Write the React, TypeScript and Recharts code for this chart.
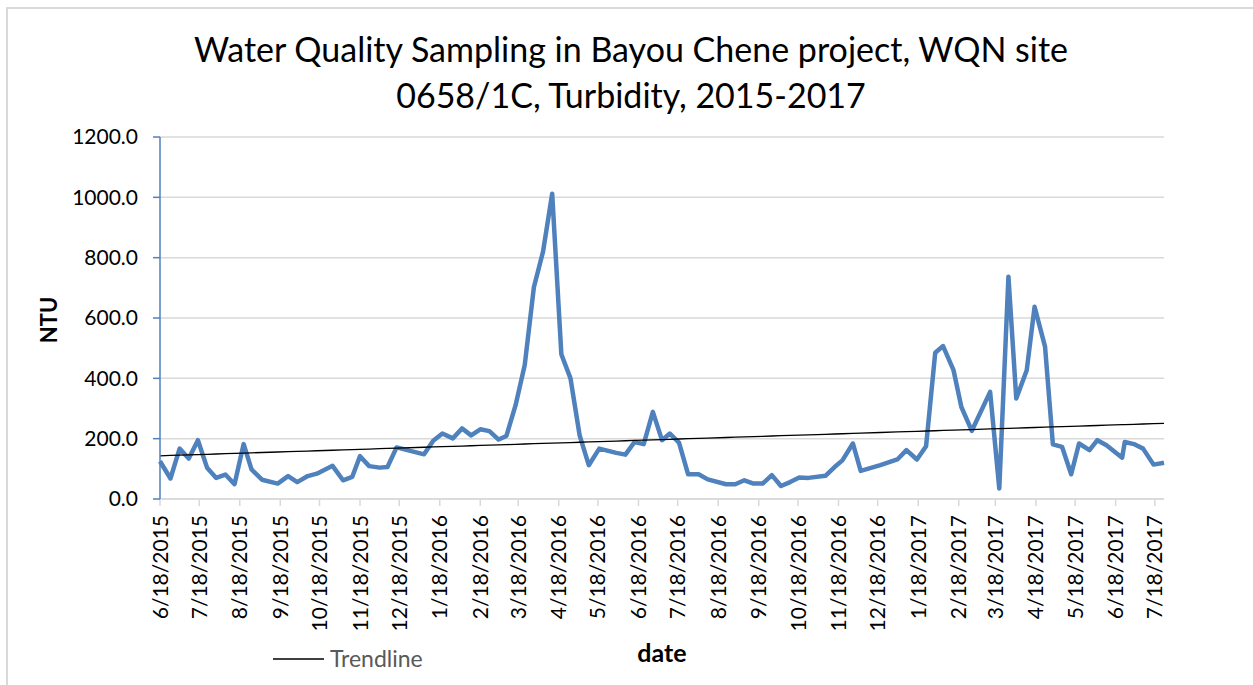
import React from 'react';
import { LineChart, Line, XAxis, YAxis, CartesianGrid } from 'recharts';

const sampleDates = [
  '2015-06-18', '2015-06-26', '2015-07-03', '2015-07-10', '2015-07-17', '2015-07-24', '2015-07-31',
  '2015-08-07', '2015-08-14', '2015-08-21', '2015-08-27', '2015-09-04', '2015-09-16', '2015-09-24',
  '2015-10-01', '2015-10-09', '2015-10-16', '2015-10-22', '2015-10-28', '2015-11-05', '2015-11-12',
  '2015-11-18', '2015-11-25', '2015-12-03', '2015-12-09', '2015-12-16', '2016-01-06', '2016-01-13',
  '2016-01-20', '2016-01-28', '2016-02-04', '2016-02-11', '2016-02-18', '2016-02-25', '2016-03-03',
  '2016-03-09', '2016-03-16', '2016-03-23', '2016-03-30', '2016-04-06', '2016-04-13', '2016-04-20',
  '2016-04-27', '2016-05-04', '2016-05-11', '2016-05-19', '2016-06-01', '2016-06-08', '2016-06-15',
  '2016-06-22', '2016-06-29', '2016-07-06', '2016-07-12', '2016-07-19', '2016-07-26', '2016-08-03',
  '2016-08-10', '2016-08-24', '2016-08-31', '2016-09-07', '2016-09-14', '2016-09-21', '2016-09-28',
  '2016-10-05', '2016-10-12', '2016-10-19', '2016-10-26', '2016-11-08', '2016-11-15', '2016-11-21',
  '2016-11-29', '2016-12-05', '2016-12-20', '2017-01-02', '2017-01-09', '2017-01-17', '2017-01-24',
  '2017-01-31', '2017-02-06', '2017-02-14', '2017-02-20', '2017-02-28', '2017-03-14', '2017-03-21',
  '2017-03-28', '2017-04-03', '2017-04-11', '2017-04-17', '2017-04-25', '2017-05-01', '2017-05-08',
  '2017-05-15', '2017-05-21', '2017-05-29', '2017-06-04', '2017-06-11', '2017-06-23', '2017-06-25',
  '2017-07-02', '2017-07-09', '2017-07-17', '2017-07-25',
];

const turbidity = [
  125, 68, 167, 134, 195, 104, 70, 81, 49, 182,
  98, 64, 51, 76, 56, 76, 84, 97, 110, 62,
  73, 142, 109, 104, 106, 171, 148, 193, 217, 201,
  234, 211, 231, 225, 197, 209, 311, 444, 702, 820,
  1012, 480, 400, 211, 112, 167, 153, 147, 189, 182,
  289, 195, 217, 187, 82, 82, 65, 49, 49, 62,
  51, 51, 79, 43, 56, 71, 70, 77, 106, 128,
  184, 93, 112, 131, 162, 131, 175, 485, 507, 427,
  305, 226, 355, 35, 737, 333, 427, 637, 505, 181,
  173, 82, 184, 162, 195, 178, 137, 189, 182, 167,
  114, 120,
];

const tickLabels = [
  '6/18/2015', '7/18/2015', '8/18/2015', '9/18/2015', '10/18/2015', '11/18/2015', '12/18/2015',
  '1/18/2016', '2/18/2016', '3/18/2016', '4/18/2016', '5/18/2016', '6/18/2016', '7/18/2016',
  '8/18/2016', '9/18/2016', '10/18/2016', '11/18/2016', '12/18/2016', '1/18/2017', '2/18/2017',
  '3/18/2017', '4/18/2017', '5/18/2017', '6/18/2017', '7/18/2017',
];

const yTicks = [0, 200, 400, 600, 800, 1000, 1200];

const FONT = 'Lato, "Open Sans", sans-serif';
const BLUE = '#4F81BD';
const GRID = '#d9d9d9';

const isoDay = (s: string) => {
  const [y, m, d] = s.split('-').map(Number);
  return Date.UTC(y, m - 1, d) / 86400000;
};
const usDay = (s: string) => {
  const [m, d, y] = s.split('/').map(Number);
  return Date.UTC(y, m - 1, d) / 86400000;
};

const days = sampleDates.map(isoDay);
const tickDays = tickLabels.map(usDay);
const labelByDay: Record<number, string> = {};
tickLabels.forEach((l, i) => { labelByDay[tickDays[i]] = l; });

// least squares linear trendline, like Excel's
const n = days.length;
const mx = days.reduce((a, b) => a + b, 0) / n;
const my = turbidity.reduce((a, b) => a + b, 0) / n;
let sxy = 0, sxx = 0;
days.forEach((x, i) => { sxy += (x - mx) * (turbidity[i] - my); sxx += (x - mx) * (x - mx); });
const slope = sxy / sxx;
const intercept = my - slope * mx;

const data = days.map((day, i) => ({ day, ntu: turbidity[i], trend: intercept + slope * day }));

const DateTick = (props: any) => {
  const { x, y, payload } = props;
  return (
    <text
      x={x}
      y={y}
      transform={`rotate(-90, ${x}, ${y})`}
      textAnchor="end"
      dy="0.36em"
      fontSize={21}
      fontFamily={FONT}
      fill="#000"
    >
      {labelByDay[payload.value]}
    </text>
  );
};

export default function App() {
  return (
    <div style={{ position: 'absolute', left: 0, top: 0, width: 1253, height: 685, overflow: 'hidden', background: '#fff' }}>
      <div style={{ position: 'absolute', left: 6, top: 7, width: 1400, height: 800, borderLeft: `2px solid ${GRID}`, borderTop: `2px solid ${GRID}` }} />
      <LineChart
        width={1253}
        height={685}
        data={data}
        margin={{ top: 137, right: 89, bottom: 86, left: 100 }}
        style={{ position: 'absolute', left: 0, top: 0 }}
      >
        <CartesianGrid vertical={false} stroke={GRID} strokeWidth={1.5} />
        <XAxis
          type="number"
          dataKey="day"
          domain={[days[0], days[days.length - 1]]}
          ticks={tickDays}
          interval={0}
          height={100}
          tickSize={7}
          tickMargin={9}
          axisLine={{ stroke: GRID, strokeWidth: 1.5 }}
          tickLine={{ stroke: GRID, strokeWidth: 1.5 }}
          tick={<DateTick />}
        />
        <YAxis
          domain={[0, 1200]}
          ticks={yTicks}
          interval={0}
          width={60}
          tickSize={7}
          tickMargin={15}
          tickFormatter={(v: number) => v.toFixed(1)}
          axisLine={{ stroke: BLUE, strokeWidth: 1.5 }}
          tickLine={{ stroke: BLUE, strokeWidth: 1.5 }}
          tick={{ fontSize: 21, fontFamily: FONT, fill: '#000' }}
        />
        <Line
          type="linear"
          dataKey="ntu"
          stroke={BLUE}
          strokeWidth={4.5}
          strokeLinejoin="round"
          dot={false}
          isAnimationActive={false}
        />
        <Line
          type="linear"
          dataKey="trend"
          stroke="#000"
          strokeWidth={1.3}
          dot={false}
          isAnimationActive={false}
        />
      </LineChart>
      <svg width={1253} height={685} style={{ position: 'absolute', left: 0, top: 0, pointerEvents: 'none' }}>
        <text x={631} y={62} textAnchor="middle" fontSize={34} fontFamily={FONT} fill="#000">
          Water Quality Sampling in Bayou Chene project, WQN site
        </text>
        <text x={631} y={108} textAnchor="middle" fontSize={34} fontFamily={FONT} fill="#000">
          0658/1C, Turbidity, 2015-2017
        </text>
        <text x={49} y={320} transform="rotate(-90, 49, 320)" textAnchor="middle" dy="0.36em" fontSize={22} fontWeight="bold" fontFamily={FONT} fill="#000">
          NTU
        </text>
        <text x={662} y={662} textAnchor="middle" fontSize={25} fontWeight="bold" fontFamily={FONT} fill="#000">
          date
        </text>
        <line x1={273} y1={659} x2={324} y2={659} stroke="#000" strokeWidth={1.3} />
        <text x={330} y={667} fontSize={23} fontFamily={FONT} fill="#595959">
          Trendline
        </text>
      </svg>
    </div>
  );
}
